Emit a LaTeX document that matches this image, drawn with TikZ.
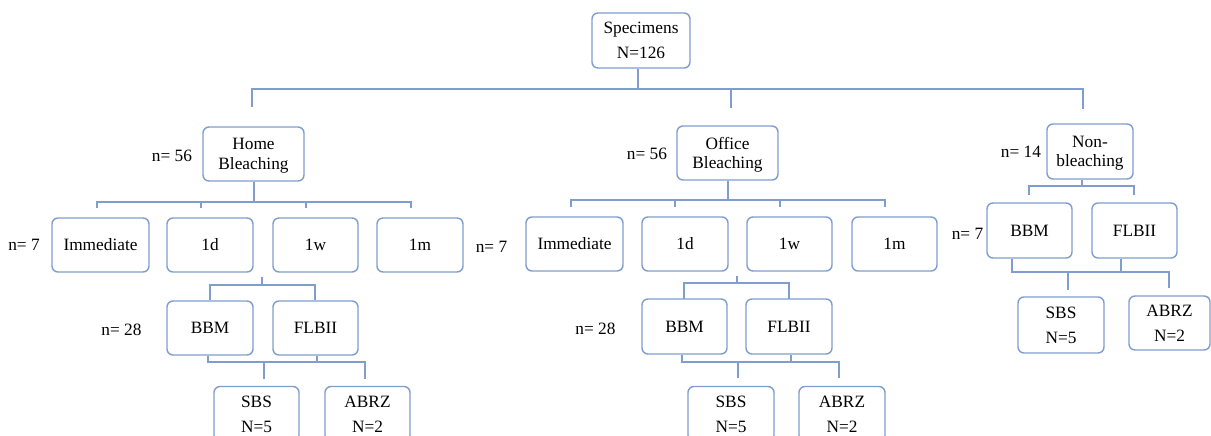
\documentclass[tikz,border=0pt]{standalone}
\usepackage{fontspec}
\setmainfont{Liberation Serif}
\definecolor{lineblue}{RGB}{127,157,206}
\newcommand\fsa{\fontsize{17.3}{25}\selectfont}
\newcommand\fsb{\fontsize{17.3}{19.5}\selectfont}
\begin{document}
\begin{tikzpicture}[x=1pt,y=-1pt,
  box/.style={draw=lineblue, line width=1.4pt, rounded corners=6pt, inner sep=0pt, align=center, font=\fsa, text=black},
  twoline/.style={font=\fsb, text depth=0pt},
  lbl/.style={font=\fsa, inner sep=0pt, text=black},
  conn/.style={draw=lineblue, line width=1.4pt}]
\path[use as bounding box] (0,0) rectangle (1211,436);
\clip (0,0) rectangle (1211,436);

% ---- boxes ----
\node[box, minimum width=98pt, minimum height=55pt] (spec) at (641,40.5) {Specimens\\N=126};

\node[box, twoline, minimum width=101pt, minimum height=54pt] (home) at (253.5,154) {Home\\Bleaching};
\node[box, twoline, minimum width=101pt, minimum height=54pt] (office) at (727.5,153) {Office\\Bleaching};
\node[box, twoline, minimum width=86pt, minimum height=55pt] (non) at (1090,151.5) {Non-\\bleaching};

\node[box, minimum width=97pt, minimum height=54pt] (hImm) at (100.5,245) {Immediate};
\node[box, minimum width=86pt, minimum height=54pt] (h1d) at (210,245) {1d};
\node[box, minimum width=85pt, minimum height=54pt] (h1w) at (315.5,245) {1w};
\node[box, minimum width=86pt, minimum height=54pt] (h1m) at (420,245) {1m};

\node[box, minimum width=97pt, minimum height=54pt] (oImm) at (574.5,244) {Immediate};
\node[box, minimum width=86pt, minimum height=54pt] (o1d) at (685,244) {1d};
\node[box, minimum width=85pt, minimum height=54pt] (o1w) at (789.5,244) {1w};
\node[box, minimum width=85pt, minimum height=54pt] (o1m) at (894.5,244) {1m};

\node[box, minimum width=86pt, minimum height=54pt] (hBBM) at (210,328) {BBM};
\node[box, minimum width=85pt, minimum height=54pt] (hFLB) at (315.5,328) {FLBII};
\node[box, minimum width=85pt, minimum height=55pt] (oBBM) at (684.5,326.5) {BBM};
\node[box, minimum width=86pt, minimum height=55pt] (oFLB) at (789,326.5) {FLBII};
\node[box, minimum width=85pt, minimum height=55pt] (nBBM) at (1029.5,230.5) {BBM};
\node[box, minimum width=85pt, minimum height=55pt] (nFLB) at (1134.5,230.5) {FLBII};

\node[box, minimum width=85pt, minimum height=55pt] (hSBS) at (256.5,414) {SBS\\N=5};
\node[box, minimum width=85pt, minimum height=55pt] (hABRZ) at (367.5,414) {ABRZ\\N=2};
\node[box, minimum width=86pt, minimum height=55pt] (oSBS) at (731,414) {SBS\\N=5};
\node[box, minimum width=86pt, minimum height=55pt] (oABRZ) at (842,414) {ABRZ\\N=2};
\node[box, minimum width=86pt, minimum height=56pt] (nSBS) at (1061,325) {SBS\\N=5};
\node[box, minimum width=81pt, minimum height=54pt] (nABRZ) at (1169.5,323) {ABRZ\\N=2};

% ---- labels ----
\node[lbl] (lh56) at (172,156) {n= 56};
\node[lbl] (lo56) at (647,154) {n= 56};
\node[lbl] (ln14) at (1021,152) {n= 14};
\node[lbl] (lh7) at (24,245) {n= 7};
\node[lbl] (lo7) at (491.5,247) {n= 7};
\node[lbl] (ln7) at (967.5,234) {n= 7};
\node[lbl] (lh28) at (121.5,330) {n= 28};
\node[lbl] (lo28) at (595.5,329) {n= 28};

% ---- connectors: level 1 ----
\coordinate (tbar) at (638,89);
\coordinate (dHome) at (252,107);
\coordinate (dOffice) at (731,108);
\coordinate (dNon) at (1083,109);
\draw[conn] (spec.south -| tbar) -- (tbar);
\draw[conn] (dHome) -- (dHome |- tbar) -- (dNon |- tbar) -- (dNon);
\draw[conn] (dOffice |- tbar) -- (dOffice);

% ---- home level 2 ----
\coordinate (hbar) at (254,202);
\draw[conn] (home.south -| hbar) -- (hbar);
\draw[conn] (97,208) -- (97,202) -- (411,202) -- (411,208);
\draw[conn] (201,202) -- (201,208);
\draw[conn] (306,202) -- (306,208);

% ---- office level 2 ----
\coordinate (obar) at (728,200);
\draw[conn] (office.south -| obar) -- (obar);
\draw[conn] (571,207) -- (571,200) -- (885,200) -- (885,207);
\draw[conn] (675,200) -- (675,207);
\draw[conn] (780,200) -- (780,207);

% ---- non level 2 ----
\coordinate (nbar) at (1082,186);
\draw[conn] (non.south -| nbar) -- (nbar);
\draw[conn] (1029,195) -- (1029,186) -- (1134,186) -- (1134,195);

% ---- home level 3 ----
\draw[conn] (262,277) -- (262,285);
\draw[conn] (210,300) -- (210,285) -- (315,285) -- (315,300);

% ---- office level 3 ----
\draw[conn] (737,276) -- (737,283);
\draw[conn] (684,299) -- (684,283) -- (789,283) -- (789,299);

% ---- home level 4 ----
\coordinate (hb4) at (208,362);
\draw[conn] (hBBM.south -| hb4) -- (hb4) -- (365,362) -- (365,379);
\draw[conn] (hFLB.south -| 317,0) -- (317,362);
\draw[conn] (264,362) -- (264,379);

% ---- office level 4 ----
\coordinate (ob4) at (682,362);
\draw[conn] (oBBM.south -| ob4) -- (ob4) -- (839,362) -- (839,378);
\draw[conn] (oFLB.south -| 791,0) -- (791,362);
\draw[conn] (738,362) -- (738,378);

% ---- non level 3 ----
\coordinate (nb4) at (1012,272);
\draw[conn] (nBBM.south -| nb4) -- (nb4) -- (1169,272) -- (1169,288);
\draw[conn] (nFLB.south -| 1121,0) -- (1121,272);
\draw[conn] (1068,272) -- (1068,290);
\end{tikzpicture}
\end{document}
